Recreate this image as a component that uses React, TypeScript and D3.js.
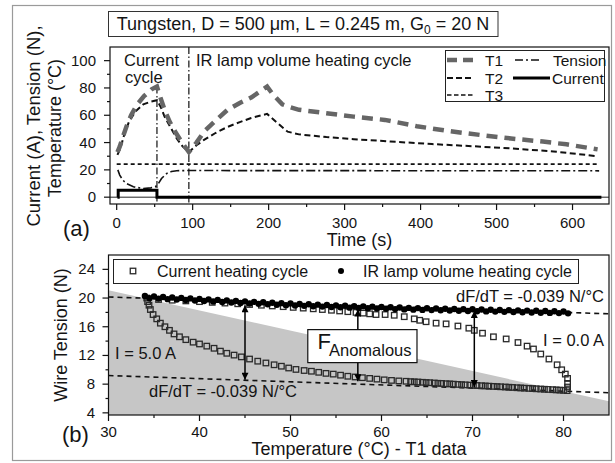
import React from "react";
import * as d3 from "d3";

// ---------------- Panel (a): time series ----------------
const timeTicks = [0, 100, 200, 300, 400, 500, 600];
const timeMinor = [50, 150, 250, 350, 450, 550];
const valTicksA = [0, 20, 40, 60, 80, 100];
const valMinorA = [10, 30, 50, 70, 90];

const t1Time = [1, 4, 8, 13, 19, 27, 36, 46, 53, 57, 63, 70, 78, 86, 95, 105, 115, 130, 146, 162, 177, 190, 198, 206, 218, 228, 240, 276, 312, 353, 395, 436, 478, 519, 561, 592, 633];
const t1Temp = [33, 37, 44, 52, 60, 68, 74, 79, 81, 74, 64, 55, 47, 40, 33, 40, 48, 56, 64, 69, 73, 78, 81, 75, 68, 66, 64, 61.5, 59, 56.6, 52, 48.5, 45.6, 43, 40.7, 38.7, 35];

const t2Time = [1, 5, 10, 16, 25, 35, 45, 53, 58, 63, 72, 79, 87, 95, 105, 115, 130, 146, 162, 177, 198, 210, 225, 240, 276, 312, 360, 415, 470, 519, 575, 633];
const t2Temp = [31, 36, 46, 55, 63, 68, 70, 71, 66, 59, 50, 43, 37, 33, 38, 42, 47, 51.5, 55, 58, 61, 55, 48, 46, 44, 42.5, 40.8, 38.9, 37.3, 35.7, 33.5, 30];

const t3Time = [0, 635];
const t3Temp = [24.2, 24.2];

const tensionTime = [1.5, 4, 8, 13, 22, 35, 45, 51, 55, 59, 66, 72, 79, 95, 635];
const tensionVal = [20, 16.2, 12.5, 10, 7.6, 6.4, 6.8, 7.6, 10, 13.7, 17.4, 18.8, 19.4, 19.5, 19.3];

const currentTime = [1, 2, 2, 53, 53, 638];
const currentVal = [0, 0, 5, 5, 0, 0];

const sepTime = [53, 95];
const sepTop = [81, 110];

// ---------------- Panel (b): tension vs temperature ----------------
const tempTicksB = [30, 40, 50, 60, 70, 80];
const tempMinorB = [35, 45, 55, 65, 75];
const forceTicksB = [4, 8, 12, 16, 20, 24];
const forceMinorB = [6, 10, 14, 18, 22];

// current heating cycle (open squares): heating branch (I = 5.0 A) then cooling branch (I = 0.0 A)
const currCycleT = [
  34.2, 34.3, 34.45, 34.6, 34.9, 35.3, 35.7, 36.2, 36.7, 37.2, 37.8, 38.5, 39.3, 40.0, 40.8, 41.6, 42.3, 43.0, 43.8, 44.6,
  45.5, 46.4, 47.3, 48.2, 49.0, 49.8, 50.6, 51.5, 52.3, 53.1, 53.9, 54.7, 55.5, 56.3, 57.1, 57.9, 58.7, 59.5, 60.3, 61.1,
  61.9, 62.7, 63.2, 63.6, 64.0, 64.5, 64.9, 65.3, 65.8, 66.2, 66.6, 67.1, 67.5, 67.9, 68.4, 68.8, 69.2, 69.7, 70.1, 70.5,
  71.0, 71.4, 71.8, 72.3, 72.7, 73.1, 73.6, 74.0, 74.4, 74.9, 75.3, 75.7, 76.2, 76.6, 77.0, 77.5, 77.9, 78.3, 78.8, 79.2,
  79.6, 80.0, 80.4,
  80.45, 80.45, 80.45, 80.2, 79.8, 79.3, 78.4, 77.5, 76.7, 76.0, 75.0, 73.7, 72.3, 71.1, 70.2, 69.6, 68.4, 67.1, 66.0, 64.9,
  64.2, 63.6, 62.5, 61.4, 60.4, 59.4, 58.7, 58.0, 57.2, 56.3, 55.4, 54.5, 53.5, 52.5, 51.4, 50.3, 49.2, 48.0, 46.8, 45.5,
  44.2, 42.8, 41.4, 40.0, 38.5, 37.0, 35.5,
];
const currCycleF = [
  20.0, 19.5, 19.0, 18.4, 17.7, 17.1, 16.5, 16.0, 15.5, 15.0, 14.6, 14.2, 13.85, 13.6, 13.3, 13.0, 12.6, 12.3, 12.05, 11.8,
  11.5, 11.2, 10.95, 10.7, 10.5, 10.25, 10.05, 9.9, 9.8, 9.65, 9.5, 9.4, 9.25, 9.1, 9.0, 8.9, 8.8, 8.7, 8.6, 8.52,
  8.45, 8.4, 8.35, 8.32, 8.3, 8.26, 8.22, 8.2, 8.16, 8.12, 8.1, 8.06, 8.03, 8.0, 7.96, 7.93, 7.9, 7.87, 7.84, 7.81,
  7.78, 7.75, 7.72, 7.69, 7.66, 7.63, 7.6, 7.57, 7.54, 7.5, 7.47, 7.44, 7.41, 7.38, 7.35, 7.32, 7.29, 7.26, 7.23, 7.2,
  7.17, 7.14, 7.1,
  7.6, 8.1, 8.8, 9.4, 10.0, 10.7, 11.5, 12.2, 12.9, 13.3, 13.8, 14.3, 14.6, 15.1, 15.5, 15.8, 16.1, 16.4, 16.5, 16.7,
  16.9, 17.1, 17.4, 17.6, 17.7, 17.7, 17.8, 17.9, 18.0, 18.1, 18.2, 18.3, 18.4, 18.5, 18.6, 18.7, 18.8, 18.9, 19.0, 19.1,
  19.2, 19.3, 19.4, 19.5, 19.6, 19.7, 19.8,
];

// IR lamp volume heating cycle (filled dots)
const irT = [
  34, 35, 36, 37, 38, 39, 40, 41, 42, 43, 44, 45, 46, 47, 48, 49, 50, 51, 52, 53, 54, 55, 56, 57, 58, 59, 60, 61, 62, 63,
  64, 65, 66, 67, 68, 69, 70, 71, 72, 73, 74, 75, 76, 77, 78, 79, 80,
  34.5, 35.5, 36.5, 37.5, 38.5, 39.5, 40.5, 41.5, 42.5, 43.5, 44.5, 45.5, 46.5, 47.5, 48.5, 49.5, 50.5, 51.5, 52.5, 53.5,
  54.5, 55.5, 56.5, 57.5, 58.5, 59.5, 60.5, 61.5, 62.5, 63.5, 64.5, 65.5, 66.5, 67.5, 68.5, 69.5, 70.5, 71.5, 72.5, 73.5,
  74.5, 75.5, 76.5, 77.5, 78.5, 79.5, 80.5,
];
const irF = [
  20.28, 20.22, 20.15, 20.08, 20.02, 19.95, 19.88, 19.81, 19.74, 19.67, 19.6, 19.53, 19.47, 19.41, 19.35, 19.29, 19.23, 19.18, 19.13, 19.08,
  19.03, 18.98, 18.93, 18.88, 18.84, 18.8, 18.76, 18.72, 18.68, 18.63, 18.6, 18.57, 18.54, 18.51, 18.48, 18.45, 18.43, 18.4, 18.37, 18.34,
  18.31, 18.28, 18.25, 18.22, 18.19, 18.16, 18.13,
  19.98, 19.92, 19.85, 19.79, 19.72, 19.66, 19.59, 19.52, 19.45, 19.38, 19.31, 19.25, 19.19, 19.13, 19.07, 19.01, 18.96, 18.91, 18.86, 18.81,
  18.76, 18.71, 18.66, 18.62, 18.58, 18.54, 18.5, 18.46, 18.42, 18.38, 18.35, 18.32, 18.29, 18.26, 18.23, 18.2, 18.17, 18.14, 18.11, 18.08,
  18.05, 18.02, 17.99, 17.96, 17.93, 17.9, 17.87,
];

const slopeT = [30, 85];
const upperSlopeF = [20.15, 17.8];
const lowerSlopeF = [9.2, 6.8];
const shadeT = [30, 85];
const shadeTopF = [21.1, 5.6];

const arrowT = [45, 57.4, 70.2];
const arrowTopF = [19.0, 18.4, 18.2];
const arrowBottomF = [8.6, 8.4, 7.6];

const FONT = "'Liberation Sans', Arial, Helvetica, sans-serif";
const INK = "#141414";

export default function App() {
  // scales
  const xA = d3.scaleLinear().domain([-8.8, 648]).range([110, 609]);
  const yA = d3.scaleLinear().domain([-5, 110]).range([204, 47]);
  const xB = d3.scaleLinear().domain([30, 85]).range([108.5, 609]);
  const yB = d3.scaleLinear().domain([3.7, 26]).range([415, 255]);

  const lineA = d3
    .line<[number, number]>()
    .x((d) => xA(d[0]))
    .y((d) => yA(d[1]));
  const zipA = (t: number[], v: number[]) => t.map((d, i) => [d, v[i]] as [number, number]);

  const t1Path = lineA(zipA(t1Time, t1Temp)) || "";
  const t2Path = lineA(zipA(t2Time, t2Temp)) || "";
  const t3Path = lineA(zipA(t3Time, t3Temp)) || "";
  const tensionPath = lineA(zipA(tensionTime, tensionVal)) || "";
  const currentPath = lineA(zipA(currentTime, currentVal)) || "";

  const [xa0, xa1] = xA.range();
  const [ya0, ya1] = yA.range();
  const [xb0, xb1] = xB.range();
  const [yb0, yb1] = yB.range();

  const shadePath =
    d3
      .area<number>()
      .x((d) => xB(d))
      .y0(() => yB(3.7))
      .y1((_, i) => yB(shadeTopF[i]))(shadeT) || "";

  const sq = 5.5;

  return (
    <svg
      width={615}
      height={463}
      viewBox="0 0 615 463"
      style={{ position: "absolute", left: 0, top: 0, background: "#fff" }}
      fontFamily={FONT}
    >
      <defs>
        <marker
          id="ah"
          viewBox="0 0 10 10"
          refX="10"
          refY="5"
          markerWidth="8"
          markerHeight="7"
          markerUnits="userSpaceOnUse"
          orient="auto-start-reverse"
        >
          <path d="M0,0 L10,5 L0,10 z" fill="#000" />
        </marker>
      </defs>
      <rect x={0} y={0} width={615} height={463} fill="#fff" />
      {/* outer frame */}
      <rect x={12.5} y={5.5} width={599} height={455} fill="none" stroke="#9a9a9a" strokeWidth={1.2} />

      {/* title box */}
      <rect x={108.5} y={11.5} width={389.5} height={25} fill="#fff" stroke="#333" strokeWidth={1} />
      <text x={303} y={30} fontSize={18} textAnchor="middle" fill={INK}>
        Tungsten, D = 500 {"\u03bc"}m, L = 0.245 m, G
        <tspan fontSize={12} dy={4}>0</tspan>
        <tspan dy={-4}> = 20 N</tspan>
      </text>

      {/* ================= Panel (a) ================= */}
      <rect x={xa0} y={ya1} width={xa1 - xa0} height={ya0 - ya1} fill="#fff" stroke="none" />
      {/* zero reference */}
      <line x1={xa0} x2={xa1} y1={yA(0)} y2={yA(0)} stroke="#222" strokeWidth={1} />
      {/* separators */}
      {sepTime.map((t, i) => (
        <line
          key={"sep" + i}
          x1={xA(t)}
          x2={xA(t)}
          y1={yA(sepTop[i])}
          y2={ya0}
          stroke="#111"
          strokeWidth={1.2}
          strokeDasharray="7 2.5 1.5 2.5"
        />
      ))}
      <path d={t3Path} fill="none" stroke="#111" strokeWidth={1.6} strokeDasharray="4 3" />
      <path d={tensionPath} fill="none" stroke="#111" strokeWidth={1.6} strokeDasharray="9 3 2 3" />
      <path d={t2Path} fill="none" stroke="#111" strokeWidth={2} strokeDasharray="6 3.5" />
      <path d={t1Path} fill="none" stroke="#666" strokeWidth={4.5} strokeDasharray="11 7" />
      <path d={currentPath} fill="none" stroke="#000" strokeWidth={3} />

      {/* annotations */}
      <text x={124} y={66} fontSize={16.5} fill={INK}>Current</text>
      <text x={125} y={83} fontSize={16.5} fill={INK}>cycle</text>
      <text x={196} y={66} fontSize={16.5} fill={INK}>IR lamp volume heating cycle</text>

      {/* legend (a) */}
      <rect x={445.5} y={50.5} width={159} height={51} fill="#fff" stroke="#222" strokeWidth={1} />
      <line x1={447} x2={474} y1={60} y2={60} stroke="#666" strokeWidth={4.5} strokeDasharray="10 6" />
      <text x={485} y={65.5} fontSize={15.5} fill={INK}>T1</text>
      <line x1={447} x2={474} y1={78} y2={78} stroke="#111" strokeWidth={2} strokeDasharray="6 3" />
      <text x={485} y={83.5} fontSize={15.5} fill={INK}>T2</text>
      <line x1={447} x2={474} y1={95} y2={95} stroke="#111" strokeWidth={1.6} strokeDasharray="4.5 2.5" />
      <text x={485} y={100.5} fontSize={15.5} fill={INK}>T3</text>
      <line x1={515} x2={539} y1={60} y2={60} stroke="#111" strokeWidth={1.6} strokeDasharray="8 3 2 3" />
      <text x={553} y={65.5} fontSize={15.5} fill={INK}>Tension</text>
      <line x1={513} x2={550} y1={78} y2={78} stroke="#000" strokeWidth={3} />
      <text x={552} y={83.5} fontSize={15.5} fill={INK}>Current</text>

      {/* axes (a) */}
      <rect x={xa0} y={ya1} width={xa1 - xa0} height={ya0 - ya1} fill="none" stroke="#111" strokeWidth={1.2} />
      {timeTicks.map((t) => (
        <g key={"xt" + t}>
          <line x1={xA(t)} x2={xA(t)} y1={ya0} y2={ya0 + 6} stroke="#111" strokeWidth={1.2} />
          <text x={xA(t)} y={228} fontSize={15} textAnchor="middle" fill={INK}>{t}</text>
        </g>
      ))}
      {timeMinor.map((t) => (
        <line key={"xm" + t} x1={xA(t)} x2={xA(t)} y1={ya0} y2={ya0 + 3} stroke="#111" strokeWidth={1.2} />
      ))}
      {valTicksA.map((v) => (
        <g key={"yt" + v}>
          <line x1={xa0 - 6} x2={xa0} y1={yA(v)} y2={yA(v)} stroke="#111" strokeWidth={1.2} />
          <text x={96} y={yA(v) + 5} fontSize={15} textAnchor="end" fill={INK}>{v}</text>
        </g>
      ))}
      {valMinorA.map((v) => (
        <line key={"ym" + v} x1={xa0 - 3} x2={xa0} y1={yA(v)} y2={yA(v)} stroke="#111" strokeWidth={1.2} />
      ))}
      <text x={359.5} y={246} fontSize={18} textAnchor="middle" fill={INK}>Time (s)</text>
      <text x={63} y={236} fontSize={22} fill={INK}>(a)</text>
      <text transform="translate(40,126) rotate(-90)" fontSize={18.5} textAnchor="middle" fill={INK}>
        Current (A), Tension (N),
      </text>
      <text transform="translate(61,128) rotate(-90)" fontSize={18} textAnchor="middle" fill={INK}>
        Temperature ({"\u00b0"}C)
      </text>

      {/* ================= Panel (b) ================= */}
      <rect x={xb0} y={yb1} width={xb1 - xb0} height={yb0 - yb1} fill="#fff" />
      <path d={shadePath} fill="#c6c6c6" />
      <line x1={xB(slopeT[0])} x2={xB(slopeT[1])} y1={yB(upperSlopeF[0])} y2={yB(upperSlopeF[1])} stroke="#111" strokeWidth={1.6} strokeDasharray="5 4" />
      <line x1={xB(slopeT[0])} x2={xB(slopeT[1])} y1={yB(lowerSlopeF[0])} y2={yB(lowerSlopeF[1])} stroke="#111" strokeWidth={1.6} strokeDasharray="5 4" />

      {currCycleT.map((t, i) => (
        <rect
          key={"sq" + i}
          x={xB(t) - sq / 2}
          y={yB(currCycleF[i]) - sq / 2}
          width={sq}
          height={sq}
          fill="none"
          stroke="#2a2a2a"
          strokeWidth={1.3}
        />
      ))}
      {irT.map((t, i) => (
        <circle key={"ir" + i} cx={xB(t)} cy={yB(irF[i])} r={3.2} fill="#000" />
      ))}

      {arrowT.map((t, i) => (
        <line
          key={"ar" + i}
          x1={xB(t)}
          x2={xB(t)}
          y1={yB(arrowTopF[i])}
          y2={yB(arrowBottomF[i])}
          stroke="#000"
          strokeWidth={1.5}
          markerStart="url(#ah)"
          markerEnd="url(#ah)"
        />
      ))}

      {/* F anomalous box */}
      <rect x={xB(51.9)} y={yB(15.6)} width={xB(63.9) - xB(51.9)} height={yB(11.0) - yB(15.6)} fill="#fff" stroke="#111" strokeWidth={1.2} />
      <text x={317.5} y={349} fontSize={22} fill={INK}>F</text>
      <text x={329} y={356} fontSize={16.5} fill={INK}>Anomalous</text>

      <text x={604} y={302} fontSize={16.5} textAnchor="end" fill={INK}>dF/dT = -0.039 N/{"\u00b0"}C</text>
      <text x={149} y={397} fontSize={16.5} fill={INK}>dF/dT = -0.039 N/{"\u00b0"}C</text>
      <text x={115} y={359} fontSize={16.5} fill={INK}>I = 5.0 A</text>
      <text x={543} y={345.5} fontSize={16.5} fill={INK}>I = 0.0 A</text>

      {/* legend (b) */}
      <rect x={113.5} y={259.5} width={465} height={24} fill="#fff" stroke="#222" strokeWidth={1} />
      <rect x={133 - sq / 2} y={271 - sq / 2} width={sq} height={sq} fill="none" stroke="#2a2a2a" strokeWidth={1.3} />
      <text x={157} y={277} fontSize={16} fill={INK}>Current heating cycle</text>
      <circle cx={341} cy={271} r={3} fill="#000" />
      <text x={363} y={277} fontSize={16} fill={INK}>IR lamp volume heating cycle</text>

      {/* axes (b) */}
      <rect x={xb0} y={yb1} width={xb1 - xb0} height={yb0 - yb1} fill="none" stroke="#111" strokeWidth={1.2} />
      {tempTicksB.map((t) => (
        <g key={"bxt" + t}>
          <line x1={xB(t)} x2={xB(t)} y1={yb0} y2={yb0 + 6} stroke="#111" strokeWidth={1.2} />
          <text x={xB(t)} y={436.5} fontSize={15} textAnchor="middle" fill={INK}>{t}</text>
        </g>
      ))}
      {tempMinorB.map((t) => (
        <line key={"bxm" + t} x1={xB(t)} x2={xB(t)} y1={yb0} y2={yb0 + 3} stroke="#111" strokeWidth={1.2} />
      ))}
      {forceTicksB.map((v) => (
        <g key={"byt" + v}>
          <line x1={xb0 - 6} x2={xb0} y1={yB(v)} y2={yB(v)} stroke="#111" strokeWidth={1.2} />
          <text x={95} y={yB(v) + 5} fontSize={15} textAnchor="end" fill={INK}>{v}</text>
        </g>
      ))}
      {forceMinorB.map((v) => (
        <line key={"bym" + v} x1={xb0 - 3} x2={xb0} y1={yB(v)} y2={yB(v)} stroke="#111" strokeWidth={1.2} />
      ))}
      <text x={359} y={455} fontSize={18} textAnchor="middle" fill={INK}>
        Temperature ({"\u00b0"}C) - T1 data
      </text>
      <text x={62} y={442} fontSize={22} fill={INK}>(b)</text>
      <text transform="translate(67,335) rotate(-90)" fontSize={18} textAnchor="middle" fill={INK}>
        Wire Tension (N)
      </text>
    </svg>
  );
}
